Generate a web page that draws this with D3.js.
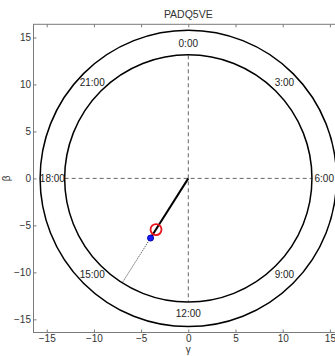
<!DOCTYPE html>
<html>
<head>
<meta charset="utf-8">
<script src="https://cdn.jsdelivr.net/npm/d3@7"></script>
<style>
  html, body { margin: 0; padding: 0; background: #fff; }
  svg { display: block; font-family: "Liberation Sans", Arial, sans-serif; }
</style>
</head>
<body>
<svg id="chart" width="335" height="356"></svg>
<script>
// Chart data
const title = "PADQ5VE";
const axisTicks = [-15, -10, -5, 0, 5, 10, 15];
const ringRadii = [13.1, 15.7];           // inner and outer clock rings
const labelRadius = 14.4;                 // hour labels sit between the rings
const hourLabels = ["0:00", "3:00", "6:00", "9:00", "12:00", "15:00", "18:00", "21:00"];
const hourValues = [0, 3, 6, 9, 12, 15, 18, 21];
const vectorPoint = [-4.0, -6.35];        // [gamma, beta] of the measured vector
const meanPoint = [-3.42, -5.45];         // [gamma, beta] of the reference marker

const svg = d3.select("#chart");
const x = d3.scaleLinear().domain([-16.4, 16.4]).range([33.5, 343.1]);
const y = d3.scaleLinear().domain([-16.4, 16.4]).range([332.5, 24.3]);
const px = r => x(r) - x(0);

const axisColor = "#7a7a7a";
const textColor = "#333";

// Plot box
svg.append("rect")
  .attr("x", x(-16.4)).attr("y", y(16.4))
  .attr("width", x(16.4) - x(-16.4)).attr("height", y(-16.4) - y(16.4))
  .attr("fill", "none").attr("stroke", axisColor).attr("stroke-width", 1);

// Axes with inward ticks on all four sides
const bottomAxis = d3.axisBottom(x).tickValues(axisTicks).tickSizeInner(-3).tickSizeOuter(0).tickPadding(2.5);
const leftAxis = d3.axisLeft(y).tickValues(axisTicks).tickSizeInner(-3).tickSizeOuter(0).tickPadding(2.5);
const topAxis = d3.axisTop(x).tickValues(axisTicks).tickSizeInner(-3).tickSizeOuter(0).tickFormat("");
const rightAxis = d3.axisRight(y).tickValues(axisTicks).tickSizeInner(-3).tickSizeOuter(0).tickFormat("");

function styleAxis(g) {
  g.select(".domain").remove();
  g.selectAll("line").attr("stroke", axisColor);
  g.selectAll("text").attr("fill", textColor).attr("font-size", 10)
    .attr("font-family", "Liberation Sans, Arial, sans-serif");
}
svg.append("g").attr("transform", `translate(0,${y(-16.4)})`).call(bottomAxis).call(styleAxis);
svg.append("g").attr("transform", `translate(${x(-16.4)},0)`).call(leftAxis).call(styleAxis);
svg.append("g").attr("transform", `translate(0,${y(16.4)})`).call(topAxis).call(styleAxis);
svg.append("g").attr("transform", `translate(${x(16.4)},0)`).call(rightAxis).call(styleAxis);

// Axis titles and chart title
svg.append("text").attr("x", x(0)).attr("y", 18).attr("text-anchor", "middle")
  .attr("font-size", 10.5).attr("fill", textColor).text(title);
svg.append("text").attr("x", x(0)).attr("y", 353).attr("text-anchor", "middle")
  .attr("font-size", 10).attr("fill", textColor).text("γ");
svg.append("text").attr("transform", `translate(10,${y(0)}) rotate(-90)`)
  .attr("text-anchor", "middle").attr("font-size", 10).attr("fill", textColor).text("β");

// Dashed cross hairs inside the inner ring
const inner = ringRadii[0];
svg.append("line").attr("x1", x(0)).attr("x2", x(0)).attr("y1", y(inner)).attr("y2", y(-inner))
  .attr("stroke", "#555").attr("stroke-width", 0.9).attr("stroke-dasharray", "4,3");
svg.append("line").attr("x1", x(-inner)).attr("x2", x(inner)).attr("y1", y(0)).attr("y2", y(0))
  .attr("stroke", "#555").attr("stroke-width", 0.9).attr("stroke-dasharray", "4,3");

// Clock rings
svg.selectAll("circle.ring").data(ringRadii).join("circle")
  .attr("class", "ring")
  .attr("cx", x(0)).attr("cy", y(0)).attr("r", d => px(d))
  .attr("fill", "none").attr("stroke", "#000").attr("stroke-width", 1.5);

// Hour labels, clockwise from the top
svg.selectAll("text.hour").data(hourValues).join("text")
  .attr("class", "hour")
  .attr("x", h => x(labelRadius * Math.sin(h * Math.PI / 12)))
  .attr("y", h => y(labelRadius * Math.cos(h * Math.PI / 12)))
  .attr("dy", "0.35em").attr("text-anchor", "middle")
  .attr("font-size", 10).attr("fill", "#222")
  .text((h, i) => hourLabels[i]);

// Extension of the vector out to the inner ring
const len = Math.hypot(vectorPoint[0], vectorPoint[1]);
const ux = vectorPoint[0] / len, uy = vectorPoint[1] / len;
svg.append("line")
  .attr("x1", x(vectorPoint[0])).attr("y1", y(vectorPoint[1]))
  .attr("x2", x(ux * inner)).attr("y2", y(uy * inner))
  .attr("stroke", "#444").attr("stroke-width", 1).attr("stroke-dasharray", "1.2,1.2");

// Vector from the origin
svg.append("line")
  .attr("x1", x(0)).attr("y1", y(0))
  .attr("x2", x(vectorPoint[0])).attr("y2", y(vectorPoint[1]))
  .attr("stroke", "#000").attr("stroke-width", 2);

// Reference marker
svg.append("circle")
  .attr("cx", x(meanPoint[0])).attr("cy", y(meanPoint[1])).attr("r", 5.5)
  .attr("fill", "none").attr("stroke", "#e8141c").attr("stroke-width", 1.8);

// Vector tip
svg.append("circle")
  .attr("cx", x(vectorPoint[0])).attr("cy", y(vectorPoint[1])).attr("r", 3)
  .attr("fill", "#1a1aff").attr("stroke", "#0000b0").attr("stroke-width", 1);
</script>
</body>
</html>
